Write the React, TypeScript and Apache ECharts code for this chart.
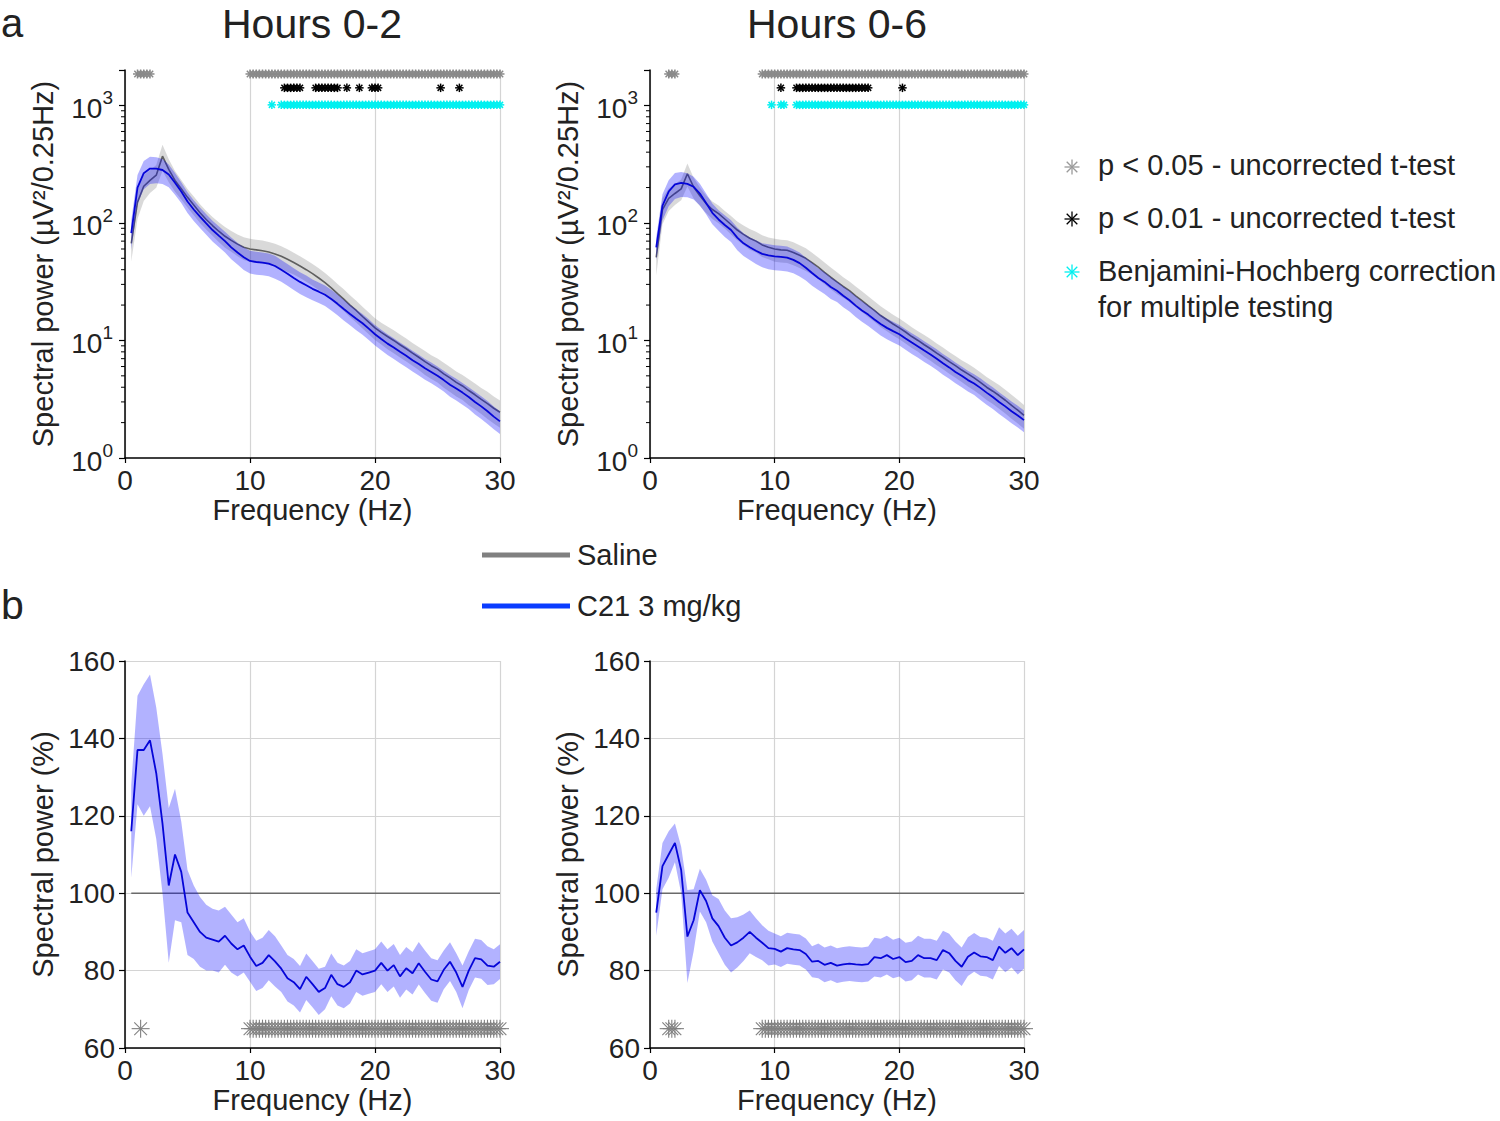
import React, { useEffect, useRef } from "react";
import * as echarts from "echarts";

const FONT = '"Liberation Sans", Arial, Helvetica, sans-serif';
const TXT = "#222222";

// frequency bins (Hz)
const FREQ = [0.5, 1, 1.5, 2, 2.5, 3, 3.5, 4, 4.5, 5, 5.5, 6, 6.5, 7, 7.5, 8, 8.5, 9, 9.5, 10,
  10.5, 11, 11.5, 12, 12.5, 13, 13.5, 14, 14.5, 15, 15.5, 16, 16.5, 17, 17.5, 18, 18.5, 19, 19.5, 20,
  20.5, 21, 21.5, 22, 22.5, 23, 23.5, 24, 24.5, 25, 25.5, 26, 26.5, 27, 27.5, 28, 28.5, 29, 29.5, 30];

// ---- panel a, Hours 0-2 (µV²/0.25Hz) ----
const salineMean02 = [67, 150, 205, 230, 255, 370, 285, 230, 195, 165, 142, 122, 107, 95, 85, 77, 71, 66, 62, 60,
  59, 58, 56.5, 54.5, 52, 49, 46, 43, 40, 37, 34, 31, 28, 25, 22.5, 20, 18, 16, 14.3, 12.8,
  11.7, 10.8, 10.0, 9.2, 8.5, 7.8, 7.2, 6.6, 6.1, 5.7, 5.2, 4.8, 4.4, 4.1, 3.75, 3.45, 3.15, 2.9, 2.65, 2.45];
const salineSem02 = [0.3, 0.28, 0.25, 0.22, 0.22, 0.25, 0.22, 0.2, 0.19, 0.18, 0.18, 0.18, 0.18, 0.18, 0.19, 0.2, 0.2, 0.21, 0.22, 0.22,
  0.22, 0.22, 0.22, 0.22, 0.22, 0.22, 0.21, 0.21, 0.21, 0.21, 0.21, 0.21, 0.21, 0.21, 0.21, 0.21, 0.21, 0.21, 0.21, 0.21,
  0.21, 0.22, 0.22, 0.22, 0.22, 0.22, 0.22, 0.23, 0.23, 0.23, 0.24, 0.24, 0.24, 0.24, 0.25, 0.25, 0.25, 0.26, 0.26, 0.26];
const c21Mean02 = [82, 200, 265, 290, 290, 282, 258, 220, 185, 152, 130, 113, 99, 87, 78, 70, 62, 56, 51, 47.5,
  46.5, 46, 45, 43, 40, 37, 34, 31.5, 29.5, 27.5, 26, 24.5, 22.5, 20.5, 18.5, 16.8, 15.3, 14, 12.6, 11.3,
  10.3, 9.4, 8.7, 8.0, 7.4, 6.8, 6.3, 5.8, 5.4, 5.0, 4.6, 4.2, 3.9, 3.6, 3.3, 3.0, 2.75, 2.5, 2.25, 2.05];
const c21Sem02 = [0.28, 0.28, 0.27, 0.26, 0.25, 0.24, 0.22, 0.21, 0.2, 0.2, 0.2, 0.2, 0.2, 0.2, 0.2, 0.2, 0.21, 0.21, 0.22, 0.22,
  0.22, 0.22, 0.22, 0.22, 0.21, 0.21, 0.21, 0.21, 0.21, 0.2, 0.2, 0.2, 0.2, 0.2, 0.2, 0.2, 0.2, 0.2, 0.2, 0.2,
  0.2, 0.2, 0.2, 0.2, 0.2, 0.2, 0.2, 0.2, 0.2, 0.2, 0.2, 0.21, 0.21, 0.21, 0.21, 0.22, 0.22, 0.22, 0.22, 0.22];

// ---- panel a, Hours 0-6 ----
const salineMean06 = [51, 130, 162, 178, 195, 262, 202, 170, 146, 130, 120, 108, 97, 87, 80, 74, 70, 65, 62, 60,
  59, 58.5, 56, 53, 50, 46, 42, 38, 34.5, 31.5, 28.8, 26.5, 24, 21.8, 19.8, 18, 16.3, 15, 13.8, 12.8,
  11.8, 10.8, 10.0, 9.2, 8.5, 7.8, 7.2, 6.6, 6.1, 5.6, 5.2, 4.8, 4.4, 4.0, 3.7, 3.4, 3.1, 2.8, 2.55, 2.3];
const salineSem06 = [0.3, 0.25, 0.22, 0.2, 0.2, 0.22, 0.2, 0.18, 0.17, 0.17, 0.17, 0.17, 0.18, 0.18, 0.19, 0.2, 0.2, 0.21, 0.21, 0.22,
  0.22, 0.22, 0.22, 0.22, 0.22, 0.21, 0.21, 0.21, 0.21, 0.21, 0.2, 0.2, 0.2, 0.2, 0.2, 0.2, 0.2, 0.2, 0.2, 0.2,
  0.2, 0.2, 0.2, 0.21, 0.21, 0.21, 0.21, 0.21, 0.21, 0.21, 0.22, 0.22, 0.22, 0.22, 0.22, 0.23, 0.23, 0.23, 0.23, 0.23];
const c21Mean06 = [62, 140, 185, 213, 219, 215, 203, 178, 148, 122, 107, 96, 87, 75, 67, 62, 58, 54.5, 53, 52,
  51.5, 50.7, 48.5, 45.5, 41.5, 37.5, 34, 31.5, 28.5, 26.5, 24, 22, 19.8, 18, 16.6, 15.1, 13.8, 12.8, 12.0, 11.3,
  10.4, 9.6, 8.9, 8.2, 7.6, 7.0, 6.4, 5.9, 5.4, 5.0, 4.6, 4.3, 3.95, 3.6, 3.3, 3.0, 2.75, 2.5, 2.3, 2.1];
const c21Sem06 = [0.22, 0.25, 0.25, 0.25, 0.24, 0.23, 0.22, 0.21, 0.2, 0.2, 0.2, 0.21, 0.21, 0.22, 0.22, 0.22, 0.23, 0.23, 0.24, 0.24,
  0.24, 0.24, 0.23, 0.23, 0.22, 0.22, 0.21, 0.21, 0.21, 0.2, 0.2, 0.2, 0.2, 0.2, 0.2, 0.2, 0.2, 0.2, 0.2, 0.2,
  0.2, 0.2, 0.2, 0.2, 0.2, 0.2, 0.2, 0.2, 0.2, 0.2, 0.2, 0.2, 0.21, 0.21, 0.21, 0.21, 0.21, 0.21, 0.21, 0.21];

// ---- panel b, C21 as % of saline ----
const pctMean02 = [116, 137, 137, 139.5, 131, 118, 102, 110, 105.5, 95, 92.5, 90, 88.5, 88, 87.5, 89, 87, 85.5, 86.5, 83.6,
  81.2, 82, 84, 82.4, 80.5, 78, 77, 75.2, 78.4, 76.5, 74.5, 75.5, 78.9, 76.5, 75.8, 77, 80, 79, 79.5, 80,
  82, 80, 81.4, 78.5, 80.6, 79.3, 81.9, 79.7, 77.7, 77.2, 80.2, 82.3, 79.5, 75.8, 80, 83.2, 82.9, 81.3, 81, 82.3];
const pctSem02 = [12, 14, 17, 17, 17, 18, 20, 17, 13, 11, 9.5, 9, 8.5, 8, 8, 7.5, 7.5, 7, 7, 6.5,
  6.5, 6.5, 6.5, 6.5, 6, 6, 6, 6, 6, 6, 6, 5.5, 5.5, 5.5, 5.5, 5.5, 5.5, 5.5, 5.5, 5.5,
  5.5, 5.5, 5.5, 5.5, 5.5, 5.5, 5.5, 5.5, 5.5, 5.5, 5, 5, 5, 5.5, 5, 5, 5, 5, 4.5, 4.5];
const pctMean06 = [95, 107, 110, 113, 106, 88.8, 93, 100.8, 98, 93.5, 91.5, 88.5, 86.5, 87.3, 88.5, 90, 88.5, 87.2, 85.8, 85.6,
  84.9, 85.8, 85.5, 85.3, 84.3, 82.3, 82.5, 81.5, 82, 81.3, 81.6, 81.8, 81.6, 81.5, 81.7, 83.5, 83.2, 84, 83, 83.5,
  82.2, 82.5, 84, 83.2, 83.2, 82.7, 85.3, 84.5, 82.5, 81, 83.6, 84.7, 83.7, 83.5, 82.7, 86.2, 84.6, 85.8, 84, 85.5];
const pctSem06 = [6, 6, 6, 5, 6, 12, 8, 5.5, 5.5, 6, 7, 7, 7, 6.5, 6, 5.5, 5, 4.5, 4.5, 4,
  4, 4, 4, 4, 4, 4, 4.5, 4.5, 4.5, 4.5, 4.5, 4.5, 4.5, 4.5, 4.5, 5, 5, 5, 5, 5,
  5, 5, 5, 5, 5, 5, 5, 5, 5, 5, 5, 5, 5, 5, 5, 5, 5, 5, 5, 5];

// ---- significant bins (Hz ranges, 0.25 Hz resolution) ----
const BIN = 0.25;
const sig05_02 = [[1.0, 2.0], [10.0, 30.0]];
const sig01_02 = [[12.75, 14.0], [15.25, 17.0], [17.75, 17.75], [18.75, 18.75], [19.75, 20.25], [25.25, 25.25], [26.75, 26.75]];
const bh_02 = [[11.75, 11.75], [12.5, 30.0]];
const sig05_06 = [[1.5, 2.0], [9.0, 30.0]];
const sig01_06 = [[10.5, 10.5], [11.75, 17.5], [20.25, 20.25]];
const bh_06 = [[9.75, 9.75], [10.5, 10.75], [11.75, 30.0]];
const pctSig_02 = [[1.25, 1.25], [10.0, 30.0]];
const pctSig_06 = [[1.5, 2.0], [9.0, 30.0]];

// star-row levels (in axis units)
const ROW_05 = 1850;
const ROW_01 = 1410;
const ROW_BH = 1010;
const ROW_PCT = 65;

const LOG_MINOR = [2, 3, 4, 5, 6, 7, 8, 9, 20, 30, 40, 50, 60, 70, 80, 90, 200, 300, 400, 500, 600, 700, 800, 900];

const C_SAL_BAND = "rgba(128,128,128,0.30)";
const C_C21_BAND = "rgba(0,0,255,0.30)";
const C_SAL_LINE = "#5f5f5f";
const C_C21_LINE = "#0505d8";
const C_STAR05 = "#8a8a8a";
const C_STAR01 = "#000000";
const C_STARBH = "#00f0f0";

function expand(ranges: number[][]) {
  const out: number[] = [];
  for (const [a, b] of ranges) {
    for (let f = a; f <= b + 1e-9; f += BIN) out.push(Math.round(f * 100) / 100);
  }
  return out;
}

function starShapes(x: number, y: number, size: number, color: string, lw: number) {
  const r = size / 2;
  const d = r * 0.7071;
  const st = { stroke: color, lineWidth: lw };
  return [
    { type: "line", shape: { x1: x - r, y1: y, x2: x + r, y2: y }, style: st },
    { type: "line", shape: { x1: x, y1: y - r, x2: x, y2: y + r }, style: st },
    { type: "line", shape: { x1: x - d, y1: y - d, x2: x + d, y2: y + d }, style: st },
    { type: "line", shape: { x1: x - d, y1: y + d, x2: x + d, y2: y - d }, style: st },
  ];
}

function starSeries(gi: number, ranges: number[][], level: number, color: string, size: number, lw: number) {
  return {
    type: "custom",
    xAxisIndex: gi,
    yAxisIndex: gi,
    clip: false,
    silent: true,
    z: 10,
    data: expand(ranges).map((f) => [f, level]),
    renderItem: (params: any, api: any) => {
      const p = api.coord([api.value(0), api.value(1)]);
      return { type: "group", children: starShapes(p[0], p[1], size, color, lw) };
    },
  };
}

function bandSeries(gi: number, mean: number[], sem: number[], relative: boolean, color: string, z: number) {
  const lo = mean.map((m, i) => (relative ? m * (1 - sem[i]) : m - sem[i]));
  const hi = mean.map((m, i) => (relative ? m * (1 + sem[i]) : m + sem[i]));
  return {
    type: "custom",
    xAxisIndex: gi,
    yAxisIndex: gi,
    silent: true,
    z,
    data: [[FREQ[0], mean[0]]],
    renderItem: (params: any, api: any) => {
      const pts: number[][] = [];
      for (let i = 0; i < FREQ.length; i++) pts.push(api.coord([FREQ[i], hi[i]]));
      for (let i = FREQ.length - 1; i >= 0; i--) pts.push(api.coord([FREQ[i], lo[i]]));
      return { type: "polygon", shape: { points: pts }, style: { fill: color, stroke: "none" } };
    },
  };
}

function lineSeries(gi: number, mean: number[], color: string, width: number, z: number) {
  return {
    type: "line",
    xAxisIndex: gi,
    yAxisIndex: gi,
    silent: true,
    z,
    symbol: "none",
    showSymbol: false,
    data: FREQ.map((f, i) => [f, mean[i]]),
    lineStyle: { color, width },
  };
}

function minorTickSeries(gi: number) {
  return {
    type: "custom",
    xAxisIndex: gi,
    yAxisIndex: gi,
    clip: false,
    silent: true,
    z: 9,
    data: LOG_MINOR.map((v) => [0, v]),
    renderItem: (params: any, api: any) => {
      const p = api.coord([0, api.value(1)]);
      return {
        type: "line",
        shape: { x1: p[0] - 4, y1: p[1], x2: p[0], y2: p[1] },
        style: { stroke: "#000", lineWidth: 1 },
      };
    },
  };
}

const GRIDS = [
  { left: 125, top: 70, width: 375, height: 388 },
  { left: 650, top: 70, width: 374, height: 388 },
  { left: 125, top: 661, width: 375, height: 387 },
  { left: 650, top: 661, width: 374, height: 387 },
];

function xAxisCfg(i: number) {
  return {
    type: "value",
    gridIndex: i,
    min: 0,
    max: 30,
    interval: 10,
    axisLine: { show: true, onZero: false, lineStyle: { color: "#000", width: 1.5 } },
    axisTick: { show: true, length: 5, lineStyle: { color: "#000", width: 1.2 } },
    axisLabel: { fontSize: 28, color: TXT, margin: 8, fontFamily: FONT },
    splitLine: { show: true, lineStyle: { color: "#d4d4d4", width: 1.2 } },
    name: "Frequency (Hz)",
    nameLocation: "middle",
    nameGap: 37,
    nameTextStyle: { fontSize: 29, color: TXT, fontFamily: FONT },
  };
}

function logYCfg(i: number) {
  return {
    type: "log",
    logBase: 10,
    gridIndex: i,
    min: 1,
    max: 2000,
    axisLine: { show: true, onZero: false, lineStyle: { color: "#000", width: 1.5 } },
    axisTick: { show: true, length: 6, lineStyle: { color: "#000", width: 1.2 } },
    axisLabel: {
      margin: 12,
      color: TXT,
      fontFamily: FONT,
      formatter: (v: number) => {
        const e = Math.round(Math.log10(v));
        if (Math.abs(Math.pow(10, e) - v) > 1e-6 * v) return "";
        return "{b|10}{s|" + e + "}";
      },
      rich: {
        b: { fontSize: 28, color: TXT, fontFamily: FONT, lineHeight: 34, verticalAlign: "bottom" },
        s: { fontSize: 19, color: TXT, fontFamily: FONT, lineHeight: 20, verticalAlign: "top" },
      },
    },
    splitLine: { show: false },
    name: "Spectral power (µV²/0.25Hz)",
    nameLocation: "middle",
    nameGap: 68,
    nameTextStyle: { fontSize: 29, color: TXT, fontFamily: FONT },
  };
}

function pctYCfg(i: number) {
  return {
    type: "value",
    gridIndex: i,
    min: 60,
    max: 160,
    interval: 20,
    axisLine: { show: true, onZero: false, lineStyle: { color: "#000", width: 1.5 } },
    axisTick: { show: true, length: 6, lineStyle: { color: "#000", width: 1.2 } },
    axisLabel: { fontSize: 28, color: TXT, margin: 10, fontFamily: FONT },
    splitLine: { show: true, lineStyle: { color: "#d4d4d4", width: 1.2 } },
    name: "Spectral power (%)",
    nameLocation: "middle",
    nameGap: 68,
    nameTextStyle: { fontSize: 29, color: TXT, fontFamily: FONT },
  };
}

function textEl(text: string, x: number, y: number, size: number, align = "left") {
  return {
    type: "text",
    x,
    y,
    silent: true,
    style: { text, fill: TXT, fontSize: size, fontFamily: FONT, align, verticalAlign: "middle" },
  };
}

function legendStar(x: number, y: number, color: string) {
  return { type: "group", silent: true, children: starShapes(x, y, 15, color, 1.3) };
}

export default function App() {
  const ref = useRef<HTMLDivElement>(null);
  useEffect(() => {
    if (!ref.current) return;
    const chart = echarts.init(ref.current, undefined, { renderer: "svg" });
    const series: any[] = [];
    // panel a
    [
      { gi: 0, sal: salineMean02, salS: salineSem02, c21: c21Mean02, c21S: c21Sem02, s05: sig05_02, s01: sig01_02, bh: bh_02 },
      { gi: 1, sal: salineMean06, salS: salineSem06, c21: c21Mean06, c21S: c21Sem06, s05: sig05_06, s01: sig01_06, bh: bh_06 },
    ].forEach((p) => {
      series.push(bandSeries(p.gi, p.sal, p.salS, true, C_SAL_BAND, 2));
      series.push(lineSeries(p.gi, p.sal, C_SAL_LINE, 1.6, 3));
      series.push(bandSeries(p.gi, p.c21, p.c21S, true, C_C21_BAND, 4));
      series.push(lineSeries(p.gi, p.c21, C_C21_LINE, 1.8, 5));
      series.push(minorTickSeries(p.gi));
      series.push(starSeries(p.gi, p.s05, ROW_05, C_STAR05, 9, 1.5));
      series.push(starSeries(p.gi, p.s01, ROW_01, C_STAR01, 8.5, 1.5));
      series.push(starSeries(p.gi, p.bh, ROW_BH, C_STARBH, 8.5, 1.5));
    });
    // panel b
    [
      { gi: 2, m: pctMean02, s: pctSem02, sig: pctSig_02 },
      { gi: 3, m: pctMean06, s: pctSem06, sig: pctSig_06 },
    ].forEach((p) => {
      series.push({
        type: "line",
        xAxisIndex: p.gi,
        yAxisIndex: p.gi,
        silent: true,
        z: 1,
        symbol: "none",
        data: [[FREQ[0], 100], [FREQ[FREQ.length - 1], 100]],
        lineStyle: { color: "#6a6a6a", width: 1.5 },
      });
      series.push(bandSeries(p.gi, p.m, p.s, false, C_C21_BAND, 4));
      series.push(lineSeries(p.gi, p.m, C_C21_LINE, 1.8, 5));
      series.push(starSeries(p.gi, p.sig, ROW_PCT, "#808080", 18, 1.1));
    });

    const option: any = {
      animation: false,
      backgroundColor: "#ffffff",
      textStyle: { fontFamily: FONT },
      grid: GRIDS.map((g) => ({ ...g, containLabel: false })),
      xAxis: [0, 1, 2, 3].map((i) => xAxisCfg(i)),
      yAxis: [logYCfg(0), logYCfg(1), pctYCfg(2), pctYCfg(3)],
      series,
      graphic: [
        textEl("a", 1, 23, 40),
        textEl("b", 1, 605, 41),
        textEl("Hours 0-2", 312, 24, 41, "center"),
        textEl("Hours 0-6", 837, 24, 41, "center"),
        {
          type: "line",
          silent: true,
          shape: { x1: 482, y1: 555, x2: 570, y2: 555 },
          style: { stroke: "#808080", lineWidth: 5 },
        },
        textEl("Saline", 577, 555, 29),
        {
          type: "line",
          silent: true,
          shape: { x1: 482, y1: 606, x2: 570, y2: 606 },
          style: { stroke: "#0a3cff", lineWidth: 5 },
        },
        textEl("C21 3 mg/kg", 577, 606, 29),
        legendStar(1072, 167, "#9a9a9a"),
        textEl("p < 0.05 - uncorrected t-test", 1098, 165, 29),
        legendStar(1072, 219, "#000000"),
        textEl("p < 0.01 - uncorrected t-test", 1098, 218, 29),
        legendStar(1072, 272, "#00f0f0"),
        textEl("Benjamini-Hochberg correction", 1098, 271, 29),
        textEl("for multiple testing", 1098, 307, 29),
      ],
    };
    chart.setOption(option);
    return () => chart.dispose();
  }, []);
  return (
    <div
      ref={ref}
      style={{ position: "absolute", left: 0, top: 0, width: 1500, height: 1121, background: "#fff" }}
    />
  );
}
